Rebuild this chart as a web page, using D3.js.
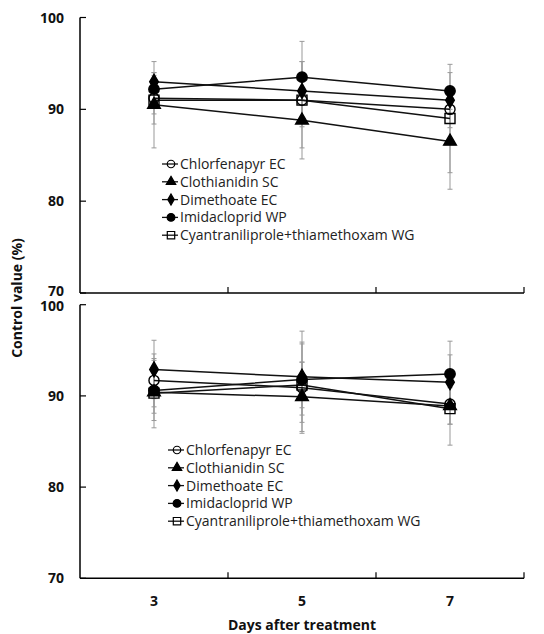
<!DOCTYPE html>
<html>
<head>
<meta charset="utf-8">
<script src="https://cdn.jsdelivr.net/npm/d3@7"></script>
<style>
  body { margin: 0; background: #fff; }
  svg { font-family: "Open Sans", "Noto Sans", sans-serif; }
</style>
</head>
<body>
<svg id="chart" width="544" height="634"></svg>
<script>
const days = [3, 5, 7];
const seriesNames = [
    "Chlorfenapyr EC",
    "Clothianidin SC",
    "Dimethoate EC",
    "Imidacloprid WP",
    "Cyantraniliprole+thiamethoxam WG"
];
const yTicks = [70, 80, 90, 100];

// top panel: means and SDs per series (order as seriesNames)
const topMeans = [
    [91.2, 91.0, 90.0],
    [90.5, 88.8, 86.5],
    [93.0, 92.0, 91.0],
    [92.2, 93.5, 92.0],
    [91.0, 91.0, 89.0]
];
const topSd = [
    [2.8, 6.4, 2.0],
    [4.7, 3.0, 5.2],
    [1.0, 3.2, 1.5],
    [1.5, 1.7, 2.0],
    [1.5, 2.9, 5.9]
];

// bottom panel
const bottomMeans = [
    [91.7, 90.9, 89.1],
    [90.4, 89.9, 88.9],
    [92.9, 92.1, 91.5],
    [90.6, 91.8, 92.4],
    [90.3, 91.2, 88.6]
];
const bottomSd = [
    [2.9, 5.0, 2.2],
    [2.3, 3.8, 2.0],
    [3.2, 5.0, 3.0],
    [3.3, 3.9, 3.6],
    [3.8, 2.5, 4.0]
];

const svg = d3.select("#chart");

const x = d3.scalePoint()
    .domain(days)
    .range([80, 524])
    .padding(0.5);
const step = x.step();

// marker style per series
const markers = [
    { type: d3.symbolCircle, size: 80, fill: "none" },
    { type: d3.symbolTriangle, size: 70, fill: "#000" },
    { type: d3.symbolDiamond, size: 65, fill: "#000" },
    { type: d3.symbolCircle, size: 85, fill: "#000" },
    { type: d3.symbolSquare, size: 100, fill: "none" }
];

// labelShift nudges the end labels so the stacked 70 / 100 don't collide
function drawPanel(means, sds, yTop, yBottom, legendX, legendY, showLabels, labelShift) {
    const y = d3.scaleLinear().domain([70, 100]).range([yBottom, yTop]);
    const g = svg.append("g");

    // axes
    g.append("line")
        .attr("x1", 80).attr("x2", 80)
        .attr("y1", y(100)).attr("y2", y(70))
        .attr("stroke", "#000").attr("stroke-width", 1.5);
    g.append("line")
        .attr("x1", 80).attr("x2", 524)
        .attr("y1", y(70)).attr("y2", y(70))
        .attr("stroke", "#000").attr("stroke-width", 1.5);

    g.selectAll(".ytick")
        .data(yTicks)
        .join("line")
        .attr("x1", 80).attr("x2", 86)
        .attr("y1", d => y(d)).attr("y2", d => y(d))
        .attr("stroke", "#000").attr("stroke-width", 1.2);

    g.selectAll(".ylab")
        .data(yTicks)
        .join("text")
        .attr("x", 64)
        .attr("y", d => y(d) + (labelShift[d] || 0))
        .attr("dy", "0.36em")
        .attr("text-anchor", "end")
        .attr("font-size", 14)
        .attr("font-weight", "bold")
        .attr("fill", "#111")
        .text(d => d);

    // x ticks at category boundaries
    g.selectAll(".xtick")
        .data(days)
        .join("line")
        .attr("x1", d => x(d) + step / 2).attr("x2", d => x(d) + step / 2)
        .attr("y1", y(70)).attr("y2", y(70) - 6)
        .attr("stroke", "#000").attr("stroke-width", 1.2);

    if (showLabels) {
        g.selectAll(".xlab")
            .data(days)
            .join("text")
            .attr("x", d => x(d))
            .attr("y", y(70) + 28)
            .attr("text-anchor", "middle")
            .attr("font-size", 14)
            .attr("font-weight", "bold")
            .attr("fill", "#111")
            .text(d => d);
    }

    // error bars
    means.forEach((row, s) => {
        row.forEach((m, i) => {
            const sd = sds[s][i];
            const cx = x(days[i]);
            g.append("line")
                .attr("x1", cx).attr("x2", cx)
                .attr("y1", y(m + sd)).attr("y2", y(m - sd))
                .attr("stroke", "#999").attr("stroke-width", 1);
            [m + sd, m - sd].forEach(v => {
                g.append("line")
                    .attr("x1", cx - 2.5).attr("x2", cx + 2.5)
                    .attr("y1", y(v)).attr("y2", y(v))
                    .attr("stroke", "#999").attr("stroke-width", 1);
            });
        });
    });

    // lines
    const line = d3.line()
        .x((d, i) => x(days[i]))
        .y(d => y(d));
    g.selectAll(".series")
        .data(means)
        .join("path")
        .attr("d", line)
        .attr("fill", "none")
        .attr("stroke", "#111")
        .attr("stroke-width", 1.5);

    // markers
    means.forEach((row, s) => {
        const mk = markers[s];
        g.selectAll(null)
            .data(row)
            .join("path")
            .attr("transform", (d, i) => `translate(${x(days[i])},${y(d)})`)
            .attr("d", d3.symbol().type(mk.type).size(mk.size))
            .attr("fill", mk.fill)
            .attr("stroke", "#000")
            .attr("stroke-width", 1.4);
    });

    // legend
    const lg = g.append("g").attr("transform", `translate(${legendX},${legendY})`);
    seriesNames.forEach((name, s) => {
        const mk = markers[s];
        const row = lg.append("g").attr("transform", `translate(0,${s * 17.8})`);
        row.append("line")
            .attr("x1", 0).attr("x2", 16)
            .attr("stroke", "#111").attr("stroke-width", 1.3);
        row.append("path")
            .attr("transform", "translate(9,0)")
            .attr("d", d3.symbol().type(mk.type).size(mk.size * 0.55))
            .attr("fill", mk.fill)
            .attr("stroke", "#000")
            .attr("stroke-width", 1.2);
        row.append("text")
            .attr("x", 18)
            .attr("dy", "0.36em")
            .attr("font-size", 14)
            .attr("fill", "#222")
            .text(name);
    });
}

drawPanel(topMeans, topSd, 17.5, 293, 162, 164, false, { 70: -2.5 });
drawPanel(bottomMeans, bottomSd, 304.7, 578.3, 168, 450, true, { 100: 1.5 });

// axis titles
svg.append("text")
    .attr("transform", "translate(22,298) rotate(-90)")
    .attr("text-anchor", "middle")
    .attr("font-size", 14)
    .attr("font-weight", "bold")
    .attr("fill", "#111")
    .text("Control value (%)");

svg.append("text")
    .attr("x", 302)
    .attr("y", 630)
    .attr("text-anchor", "middle")
    .attr("font-size", 14)
    .attr("font-weight", "bold")
    .attr("fill", "#111")
    .text("Days after treatment");
</script>
</body>
</html>
